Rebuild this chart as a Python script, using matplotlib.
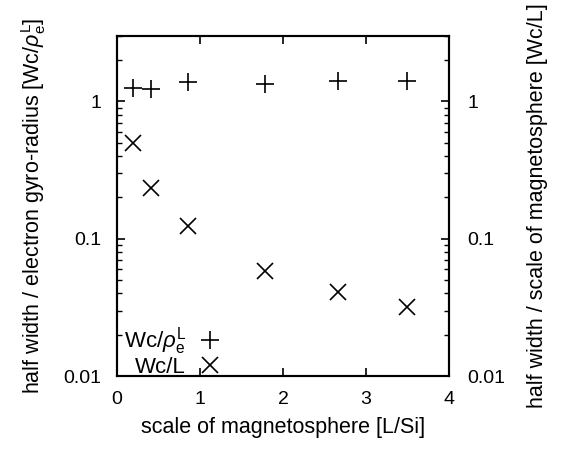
import matplotlib
matplotlib.use("Agg")
import matplotlib.pyplot as plt
from matplotlib.ticker import FixedLocator, LogLocator, FuncFormatter, NullFormatter

plt.rcParams['font.family'] = ['Liberation Sans', 'DejaVu Sans']
plt.rcParams['mathtext.fontset'] = 'custom'
plt.rcParams['mathtext.rm'] = 'Liberation Sans'
plt.rcParams['mathtext.it'] = 'Liberation Sans:italic'
plt.rcParams['mathtext.bf'] = 'Liberation Sans:bold'

# Data
scale_L = [0.19, 0.41, 0.86, 1.78, 2.66, 3.49]
wc_rho = [1.26, 1.24, 1.38, 1.33, 1.40, 1.42]
wc_L = [0.50, 0.236, 0.124, 0.0584, 0.041, 0.0319]
x_ticks = [0, 1, 2, 3, 4]
y_ticks = [0.01, 0.1, 1]

fig = plt.figure(figsize=(5.63, 4.5), dpi=100)
ax = fig.add_axes([0.2078, 0.1644, 0.5897, 0.7556])

ax.plot(scale_L, wc_rho, linestyle='none', marker='+', ms=13, mew=1.2, color='black',
        label=r'Wc/$\rho_{\mathrm{e}}^{\mathrm{L}}$')
ax.plot(scale_L, wc_L, linestyle='none', marker='x', ms=11.5, mew=1.2, color='black',
        label='Wc/L')

ax.set_xlim(0, 4)
ax.set_yscale('log')
ax.set_ylim(0.01, 3.0)

fmt = FuncFormatter(lambda v, p: '%g' % v)
ax.xaxis.set_major_locator(FixedLocator(x_ticks))
ax.yaxis.set_major_locator(FixedLocator(y_ticks))
ax.yaxis.set_major_formatter(fmt)
ax.yaxis.set_minor_locator(LogLocator(base=10, subs=range(2, 10)))
ax.yaxis.set_minor_formatter(NullFormatter())

ax.tick_params(axis='x', which='major', direction='in', length=6, width=1.2,
               labelsize=14, pad=11, top=True)
ax.tick_params(axis='y', which='major', direction='in', length=6, width=1.2,
               labelsize=14, pad=11)
ax.tick_params(axis='y', which='minor', direction='in', length=3.5, width=1.0)
ax.tick_params(axis='y', right=False)

ax2 = ax.twinx()
ax2.set_yscale('log')
ax2.set_ylim(ax.get_ylim())
ax2.yaxis.set_major_locator(FixedLocator(y_ticks))
ax2.yaxis.set_major_formatter(fmt)
ax2.yaxis.set_minor_locator(LogLocator(base=10, subs=range(2, 10)))
ax2.yaxis.set_minor_formatter(NullFormatter())
ax2.tick_params(axis='y', which='major', direction='in', length=6, width=1.2,
                labelsize=14, pad=13)
ax2.tick_params(axis='y', which='minor', direction='in', length=3.5, width=1.0)

for a in (ax, ax2):
    for s in a.spines.values():
        s.set_linewidth(1.5)

ax.set_xlabel('scale of magnetosphere [L/Si]', fontsize=15.5, labelpad=6)
ax.set_ylabel(r'half width / electron gyro-radius [Wc/$\rho_{\mathrm{e}}^{\mathrm{L}}$]',
              fontsize=15.5, labelpad=11)
ax2.set_ylabel('half width / scale of magnetosphere [Wc/L]', fontsize=15.5, labelpad=16)

ax.legend(loc='lower left', markerfirst=False, frameon=False, fontsize=16,
          handlelength=1.2, handletextpad=0.5, labelspacing=0.0,
          borderaxespad=0.0, borderpad=0.3, bbox_to_anchor=(0.0, -0.025))

fig.savefig('out.png', dpi=100)
